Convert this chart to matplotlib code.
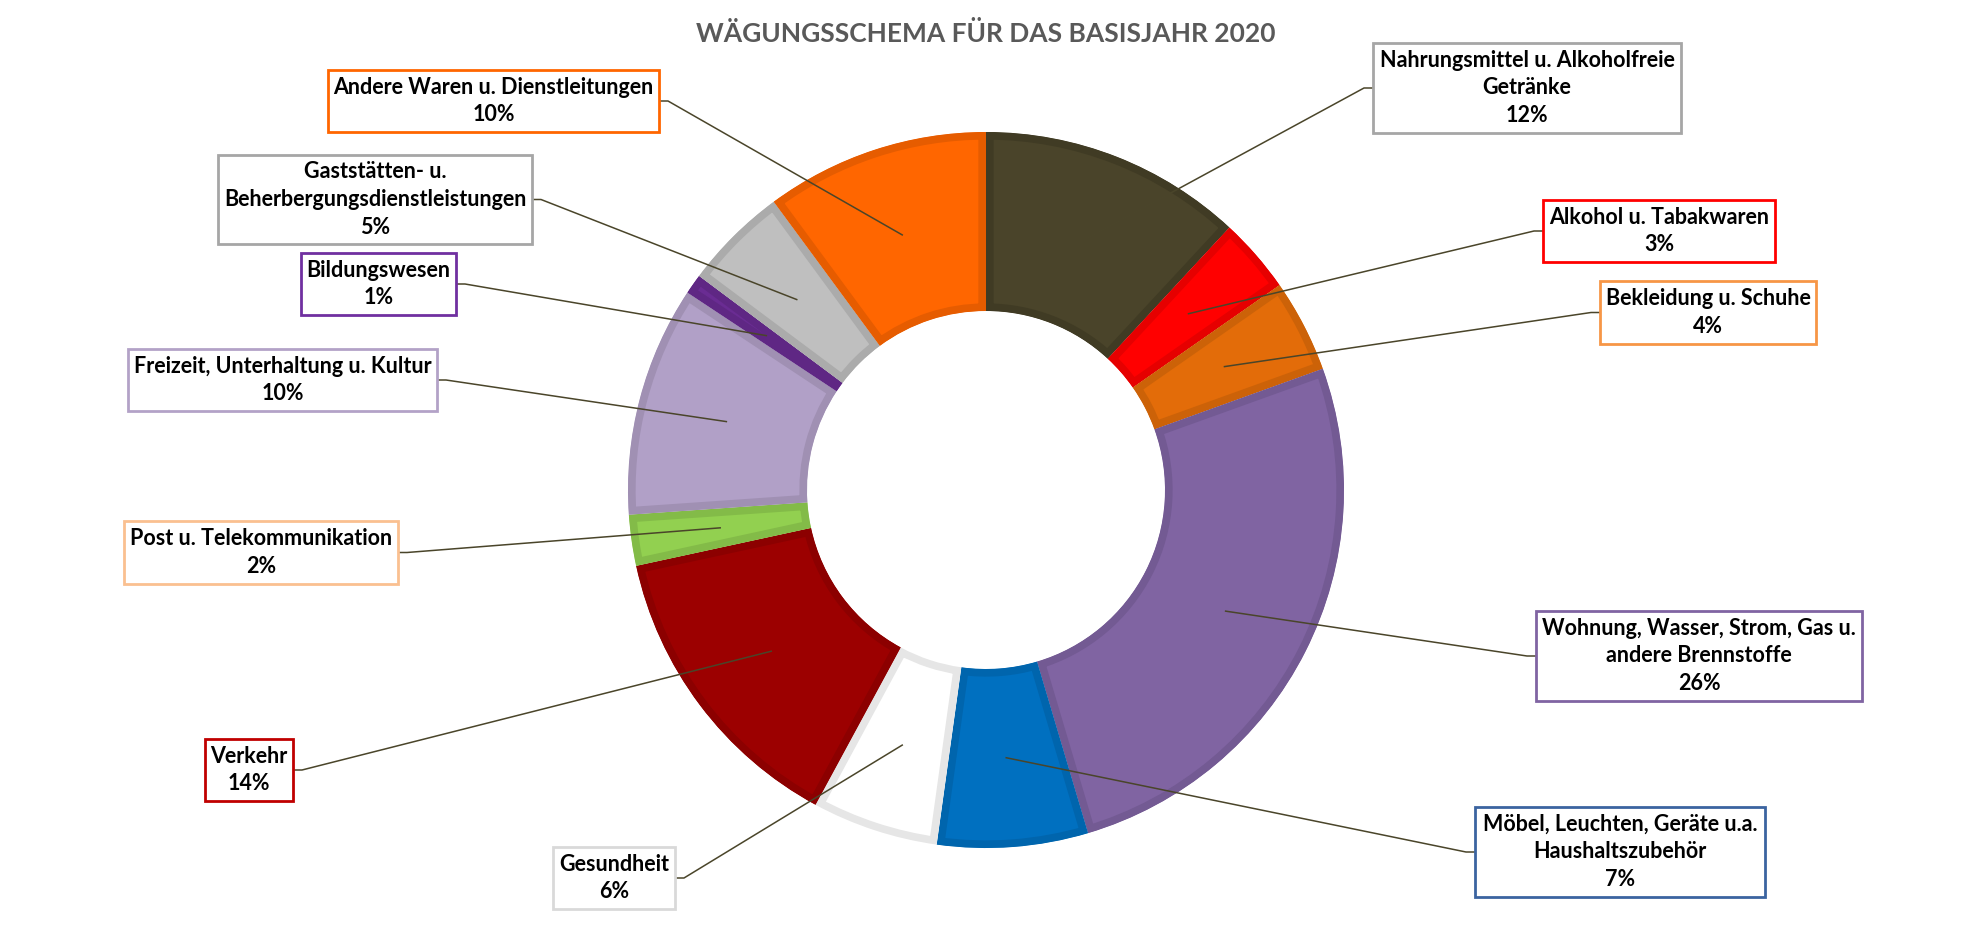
import numpy as np
import matplotlib
matplotlib.use("Agg")
import matplotlib.pyplot as plt
from matplotlib.patches import Rectangle

W, H = 1973, 926
plt.rcParams['font.family'] = ['Lato', 'DejaVu Sans']

title = "WÄGUNGSSCHEMA FÜR DAS BASISJAHR 2020"

categories = [
    "Nahrungsmittel u. Alkoholfreie\nGetränke",
    "Alkohol u. Tabakwaren",
    "Bekleidung u. Schuhe",
    "Wohnung, Wasser, Strom, Gas u.\nandere Brennstoffe",
    "Möbel, Leuchten, Geräte u.a.\nHaushaltszubehör",
    "Gesundheit",
    "Verkehr",
    "Post u. Telekommunikation",
    "Freizeit, Unterhaltung u. Kultur",
    "Bildungswesen",
    "Gaststätten- u.\nBeherbergungsdienstleistungen",
    "Andere Waren u. Dienstleitungen",
]
# weights in percent
weights = [11.9, 3.4, 4.2, 25.9, 6.8, 5.7, 13.7, 2.3, 10.4, 0.9, 4.7, 10.1]

fills = ["#4A442A", "#FF0000", "#E36C09", "#8064A2", "#0070C0", "#FFFFFF",
         "#9C0000", "#92D050", "#B1A0C7", "#6A2C93", "#BFBFBF", "#FF6600"]
edges = ["#403B24", "#E60000", "#CC6208", "#735A93", "#0065AD", "#E6E6E6",
         "#8C0000", "#83BB48", "#A090B3", "#5F2784", "#ABABAB", "#E65C00"]
box_edges = ["#A6A6A6", "#FF0000", "#F79646", "#8064A2", "#3B64A0", "#D9D9D9",
             "#C00000", "#FAC090", "#B3A2C7", "#7030A0", "#A6A6A6", "#FF6600"]

# label boxes in pixels (left, top, right, bottom), y measured downwards
boxes = [
    (1373, 43, 1681, 133), (1543, 200, 1775, 262), (1600, 281, 1816, 344),
    (1536, 611, 1862, 701), (1475, 807, 1765, 897), (553, 847, 675, 909),
    (205, 739, 293, 801), (124, 521, 398, 584), (128, 349, 437, 411),
    (301, 253, 456, 315), (218, 155, 532, 244), (328, 70, 659, 132),
]

def fy(y):
    return H - y

fig = plt.figure(figsize=(W / 100, H / 100), dpi=100)
ax = fig.add_axes([0, 0, 1, 1])
cx, cy, R = 986, fy(490), 358

wedges, _ = ax.pie(weights, colors=fills, startangle=90, counterclock=False,
                   radius=R, center=(cx, cy),
                   wedgeprops=dict(width=R / 2, linewidth=11))
for w, ec in zip(wedges, edges):
    w.set_edgecolor(ec)
    w.set_joinstyle("miter")
    w.set_clip_on(True)
    w.set_clip_path(w)  # keep only the inner half of the stroke

ax.set_xlim(0, W)
ax.set_ylim(0, H)
ax.set_aspect("auto")
ax.axis("off")

for w, name, val, (x0, y0, x1, y1), bc in zip(wedges, categories, weights, boxes, box_edges):
    ang = np.deg2rad((w.theta1 + w.theta2) / 2)
    px, py = cx + 0.75 * R * np.cos(ang), cy + 0.75 * R * np.sin(ang)
    ym = fy((y0 + y1) / 2)
    if x0 > cx:
        sx, stub = x0, x0 - 9
    else:
        sx, stub = x1, x1 + 9
    ax.plot([sx, stub, px], [ym, ym, py], color="#4A452A", lw=1.1, zorder=3)
    ax.add_patch(Rectangle((x0, fy(y1)), x1 - x0, y1 - y0, facecolor="white",
                           edgecolor=bc, lw=2, zorder=4))
    ax.text((x0 + x1) / 2, ym, f"{name}\n{round(val)}%", ha="center", va="center",
            fontsize=15.5, fontweight="bold", color="black", linespacing=1.41, zorder=5)

ax.text(cx, fy(34), title, ha="center", va="center", fontsize=19,
        fontweight="bold", color="#595959")

fig.savefig("out.png", dpi=100, facecolor="white")
